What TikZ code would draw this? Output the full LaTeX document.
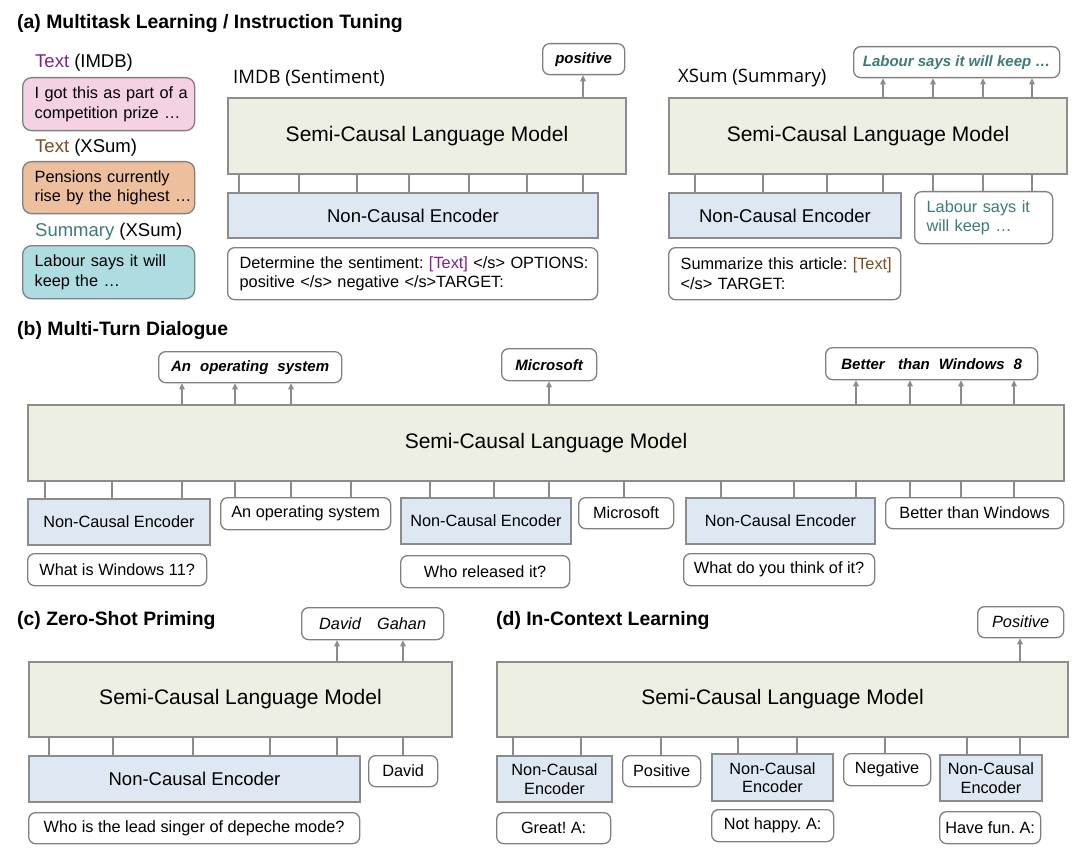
\documentclass[tikz,border=0pt]{standalone}
\usepackage{fontspec}
\setmainfont{Liberation Sans}
\newfontfamily\osans{Open Sans}
\usetikzlibrary{arrows.meta}
\frenchspacing
\definecolor{lmfill}{HTML}{ECEFE1}
\definecolor{encfill}{HTML}{DEE8F3}
\definecolor{bord}{HTML}{8C8C8C}
\definecolor{rbord}{HTML}{808080}
\definecolor{pinkf}{HTML}{F4D2E4}
\definecolor{orangef}{HTML}{EEBF9C}
\definecolor{tealf}{HTML}{AEDDE1}
\definecolor{purp}{HTML}{7E2286}
\definecolor{txtbrown}{HTML}{7F4A1F}
\definecolor{txtteal}{HTML}{3D7B79}
\newcommand\fbig{\fontsize{21}{25}\selectfont}
\newcommand\fmid{\fontsize{18.5}{22}\selectfont}
\newcommand\fsm{\fontsize{16.3}{19.5}\selectfont}
\newcommand\fout{\fontsize{15}{18}\selectfont}
\tikzset{
  lmbox/.style={draw=bord, line width=2pt, fill=lmfill, font=\fbig},
  encbox/.style={draw=bord, line width=2pt, fill=encfill, font=\fmid},
  rbox/.style={draw=rbord, line width=1.3pt, rounded corners=7pt, fill=white, font=\fsm},
  outbox/.style={rbox, font=\fout\bfseries\itshape},
  outboxb/.style={rbox, font=\fsm\itshape},
  conn/.style={draw=bord, line width=1.4pt},
  arr/.style={conn, -{Triangle[length=6pt,width=5.5pt]}},
  title/.style={font=\fontsize{19.4}{23}\selectfont\bfseries, anchor=west, inner sep=0pt},
  lab/.style={font=\fmid, anchor=west, inner sep=0pt},
}
% box by corners (pixel coords, y downward)
\newcommand\bx[7]{\node[#1, anchor=north west, minimum width={(#5-#3)*1pt}, minimum height={(#6-#4)*1pt}, inner sep=0pt, align=center] (#2) at (#3,-#4) {#7};}
% left aligned box: style, name, x1,y1,x2,y2, text width, text
\newcommand\lbx[8]{\node[#1, anchor=north west, minimum width={(#5-#3)*1pt}, minimum height={(#6-#4)*1pt}, inner xsep=12pt, inner ysep=0pt, text width=#7pt, align=left] (#2) at (#3,-#4) {#8};}
\newcommand\cn[3]{\draw[conn] (#1.south -| #3,0) -- (#2.north -| #3,0);}
\newcommand\ar[3]{\draw[arr] (#1.north -| #3,0) -- (#2.south -| #3,0);}
\begin{document}
\begin{tikzpicture}[x=1pt,y=1pt]
\useasboundingbox (0,0) rectangle (1088,-856);
% ---------------- (a)
\node[title] (ta) at (17,-24) {(a) Multitask Learning / Instruction Tuning};
\node[lab] (l1) at (35,-63) {\textcolor{purp}{Text} (IMDB)};
\lbx{rbox, fill=pinkf, rounded corners=9pt}{pink}{22}{77}{194}{130}{148}{\mbox{I got this as part of a}\\\mbox{competition prize …}}
\node[lab] (l2) at (35,-148) {\textcolor{txtbrown}{Text} (XSum)};
\lbx{rbox, fill=orangef, rounded corners=9pt}{orange}{22}{161}{194}{213}{148}{\mbox{Pensions currently}\\\mbox{rise by the highest …}}
\node[lab] (l3) at (35,-232) {\textcolor{txtteal}{Summary} (XSum)};
\lbx{rbox, fill=tealf, rounded corners=9pt}{teal}{22}{245}{194}{298}{148}{\mbox{Labour says it will}\\\mbox{keep the …}}

\node[lab, font=\osans\fmid] (imdb) at (233,-78) {IMDB (Sentiment)};
\bx{lmbox}{lmA}{227}{97}{625}{173}{Semi-Causal Language Model}
\bx{encbox}{encA}{227}{192}{597}{237}{Non-Causal Encoder}
\bx{outbox}{outA}{542}{43}{624}{74}{positive}
\lbx{rbox}{prA}{227}{247}{597}{299}{346}{\mbox{Determine the sentiment: \textcolor{purp}{[Text]} </s> OPTIONS:}\\\mbox{positive </s> negative </s>TARGET:}}
\foreach \x in {239,299,357,409,469,527,583} {\cn{lmA}{encA}{\x}}
\ar{lmA}{outA}{583}

\node[lab, font=\osans\fmid] (xsum) at (678,-78) {XSum (Summary)};
\bx{lmbox}{lmB}{668}{97}{1066}{173}{Semi-Causal Language Model}
\bx{encbox}{encB}{668}{192}{900}{237}{Non-Causal Encoder}
\lbx{rbox, text=txtteal}{sumB}{914}{191}{1052}{243}{114}{\mbox{Labour says it}\\\mbox{will keep …}}
\bx{outbox, text=txtteal}{outB}{853}{46}{1059}{77}{Labour says it will keep …}
\lbx{rbox}{prB}{668}{247}{900}{299}{208}{\mbox{Summarize this article: \textcolor{txtbrown}{[Text]}}\\\mbox{</s> TARGET:}}
\foreach \x in {695,763,827,883} {\cn{lmB}{encB}{\x}}
\foreach \x in {933,983,1032} {\cn{lmB}{sumB}{\x}}
\foreach \x in {883,933,983,1032} {\ar{lmB}{outB}{\x}}

% ---------------- (b)
\node[title] (tb) at (17,-331) {(b) Multi-Turn Dialogue};
\bx{lmbox}{lmC}{27}{404}{1063}{480}{Semi-Causal Language Model}
\bx{encbox, font=\fsm}{encC1}{27}{498}{209}{544}{Non-Causal Encoder}
\bx{rbox}{inC1}{220}{497}{390}{529}{An operating system}
\bx{encbox, font=\fsm}{encC2}{400}{497}{570}{543}{Non-Causal Encoder}
\bx{rbox}{inC2}{578}{497}{673}{528}{Microsoft}
\bx{encbox, font=\fsm}{encC3}{685}{497}{874}{543}{Non-Causal Encoder}
\bx{rbox}{inC3}{885}{497}{1063}{528}{Better than Windows}
\bx{rbox}{qC1}{27}{553}{206}{585}{What is Windows 11?}
\bx{rbox}{qC2}{400}{555}{569}{587}{Who released it?}
\bx{rbox}{qC3}{683}{553}{874}{585}{What do you think of it?}
\bx{outbox}{oC1}{158}{351}{341}{382}{An\hspace{0.6em}operating\hspace{0.6em}system}
\bx{outbox}{oC2}{501}{348}{596}{380}{Microsoft}
\bx{outbox}{oC3}{825}{347}{1037}{379}{Better\hspace{0.9em}than\hspace{0.6em}Windows\hspace{0.6em}8}
\foreach \x in {45,112,182} {\cn{lmC}{encC1}{\x}}
\foreach \x in {235,291,351} {\cn{lmC}{inC1}{\x}}
\foreach \x in {430,494,549} {\cn{lmC}{encC2}{\x}}
\cn{lmC}{inC2}{624}
\foreach \x in {721,794,856} {\cn{lmC}{encC3}{\x}}
\foreach \x in {910,961,1014} {\cn{lmC}{inC3}{\x}}
\foreach \x in {182,235,291} {\ar{lmC}{oC1}{\x}}
\ar{lmC}{oC2}{549}
\foreach \x in {856,910,961,1014} {\ar{lmC}{oC3}{\x}}

% ---------------- (c)
\node[title] (tc) at (17,-621) {(c) Zero-Shot Priming};
\bx{lmbox}{lmD}{28}{661}{451}{736}{Semi-Causal Language Model}
\bx{encbox}{encD}{28}{755}{359}{801}{Non-Causal Encoder}
\bx{rbox}{inD}{368}{755}{437}{786}{David}
\bx{rbox}{qD}{28}{812}{359}{843}{Who is the lead singer of depeche mode?}
\bx{outboxb}{oD}{301}{607}{443}{639}{David\hspace{1em}Gahan}
\foreach \x in {49,113,193,270,337} {\cn{lmD}{encD}{\x}}
\cn{lmD}{inD}{403}
\foreach \x in {337,403} {\ar{lmD}{oD}{\x}}

% ---------------- (d)
\node[title] (td) at (496,-621) {(d) In-Context Learning};
\bx{lmbox}{lmE}{496}{661}{1067}{736}{Semi-Causal Language Model}
\bx{encbox, font=\fontsize{16.3}{18.5}\selectfont}{encE1}{496}{755}{611}{801}{Non-Causal\\Encoder}
\bx{rbox}{inE1}{622}{755}{700}{786}{Positive}
\bx{encbox, font=\fontsize{16.3}{18.5}\selectfont}{encE2}{711}{753}{832}{800}{Non-Causal\\Encoder}
\bx{rbox}{inE2}{843}{753}{930}{785}{Negative}
\bx{encbox, font=\fontsize{16.3}{18.5}\selectfont}{encE3}{939}{754}{1041}{800}{Non-Causal\\Encoder}
\bx{rbox}{qE1}{496}{812}{610}{843}{Great! A:}
\bx{rbox}{qE2}{711}{809}{833}{841}{Not happy. A:}
\bx{rbox}{qE3}{939}{811}{1040}{843}{Have fun. A:}
\bx{outboxb}{oE}{977}{606}{1063}{637}{Positive}
\foreach \x in {513,581} {\cn{lmE}{encE1}{\x}}
\cn{lmE}{inE1}{661}
\foreach \x in {738,797} {\cn{lmE}{encE2}{\x}}
\cn{lmE}{inE2}{885}
\foreach \x in {967,1020} {\cn{lmE}{encE3}{\x}}
\ar{lmE}{oE}{1020}
\end{tikzpicture}
\end{document}
